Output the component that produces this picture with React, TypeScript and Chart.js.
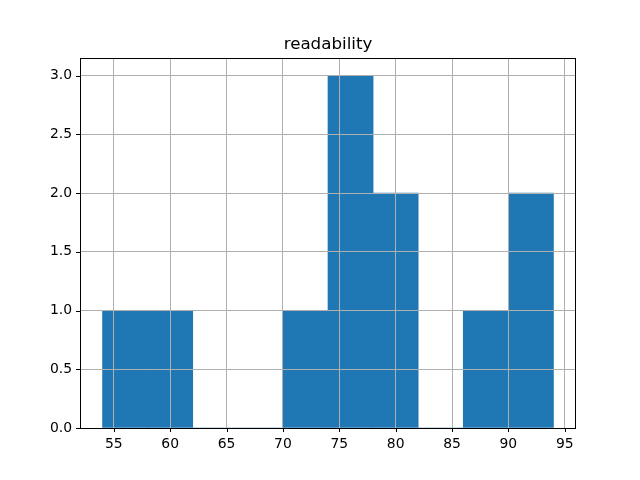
import React, { useEffect, useRef } from "react";
import { Chart, registerables } from "chart.js";

Chart.register(...registerables);

const binCenters = [56, 60, 64, 68, 72, 76, 80, 84, 88, 92];
const counts = [1, 1, 0, 0, 1, 3, 2, 0, 1, 2];
const xTicks = [55, 60, 65, 70, 75, 80, 85, 90, 95];
const yTicks = [0, 0.5, 1.0, 1.5, 2.0, 2.5, 3.0];
const title = "readability";

const FONT = "'DejaVu Sans', sans-serif";

const framePlugin = {
  id: "frame",
  afterDraw(chart: any) {
    const { ctx, chartArea } = chart;
    const { left, right, top, bottom } = chartArea;
    ctx.save();
    ctx.strokeStyle = "#000";
    ctx.lineWidth = 1;
    ctx.strokeRect(Math.round(left) + 0.5, Math.round(top) + 0.5, Math.round(right - left) - 1, Math.round(bottom - top));
    const xs = chart.scales.x;
    const ys = chart.scales.y;
    ctx.beginPath();
    xTicks.forEach((v) => {
      const px = Math.round(xs.getPixelForValue(v)) + 0.5;
      ctx.moveTo(px, bottom);
      ctx.lineTo(px, bottom + 4);
    });
    yTicks.forEach((v) => {
      const py = Math.round(ys.getPixelForValue(v)) + 0.5;
      ctx.moveTo(left, py);
      ctx.lineTo(left - 4, py);
    });
    ctx.stroke();
    ctx.fillStyle = "#000";
    ctx.font = `16.7px ${FONT}`;
    ctx.textAlign = "center";
    ctx.textBaseline = "alphabetic";
    ctx.fillText(title, (left + right) / 2, top - 9);
    ctx.restore();
  },
};

export default function App() {
  const ref = useRef<HTMLCanvasElement | null>(null);
  useEffect(() => {
    if (!ref.current) return;
    const chart = new Chart(ref.current, {
      type: "bar",
      data: {
        datasets: [
          {
            data: binCenters.map((c, i) => ({ x: c, y: counts[i] })),
            backgroundColor: "#1f77b4",
            borderWidth: 0,
            barPercentage: 1,
            categoryPercentage: 1,
          },
        ],
      },
      options: {
        animation: false,
        responsive: false,
        maintainAspectRatio: false,
        layout: { padding: { top: 58, right: 64, left: 0, bottom: 0 } },
        plugins: { legend: { display: false }, tooltip: { enabled: false }, title: { display: false } },
        scales: {
          x: {
            type: "linear",
            min: 52,
            max: 96,
            offset: false,
            grid: { color: "#b0b0b0", lineWidth: 1, drawTicks: false, offset: false, z: 1 },
            border: { display: false },
            afterBuildTicks: (s: any) => {
              s.ticks = xTicks.map((v) => ({ value: v }));
            },
            afterFit: (s: any) => {
              s.height = 52;
            },
            ticks: {
              color: "#000",
              font: { family: FONT, size: 13.9 },
              padding: 8,
              maxRotation: 0,
              autoSkip: false,
              callback: (v: any) => String(v),
            },
          },
          y: {
            type: "linear",
            min: 0,
            max: 3.15,
            grid: { color: "#b0b0b0", lineWidth: 1, drawTicks: false, z: 1 },
            border: { display: false },
            afterBuildTicks: (s: any) => {
              s.ticks = yTicks.map((v) => ({ value: v }));
            },
            afterFit: (s: any) => {
              s.width = 80;
            },
            ticks: {
              color: "#000",
              font: { family: FONT, size: 13.9 },
              padding: 8,
              autoSkip: false,
              callback: (v: any) => Number(v).toFixed(1),
            },
          },
        },
      },
      plugins: [framePlugin],
    } as any);
    return () => chart.destroy();
  }, []);
  return (
    <div style={{ position: "absolute", left: 0, top: 0, width: 640, height: 480, background: "#fff" }}>
      <canvas ref={ref} width={640} height={480} style={{ width: 640, height: 480 }} />
    </div>
  );
}
